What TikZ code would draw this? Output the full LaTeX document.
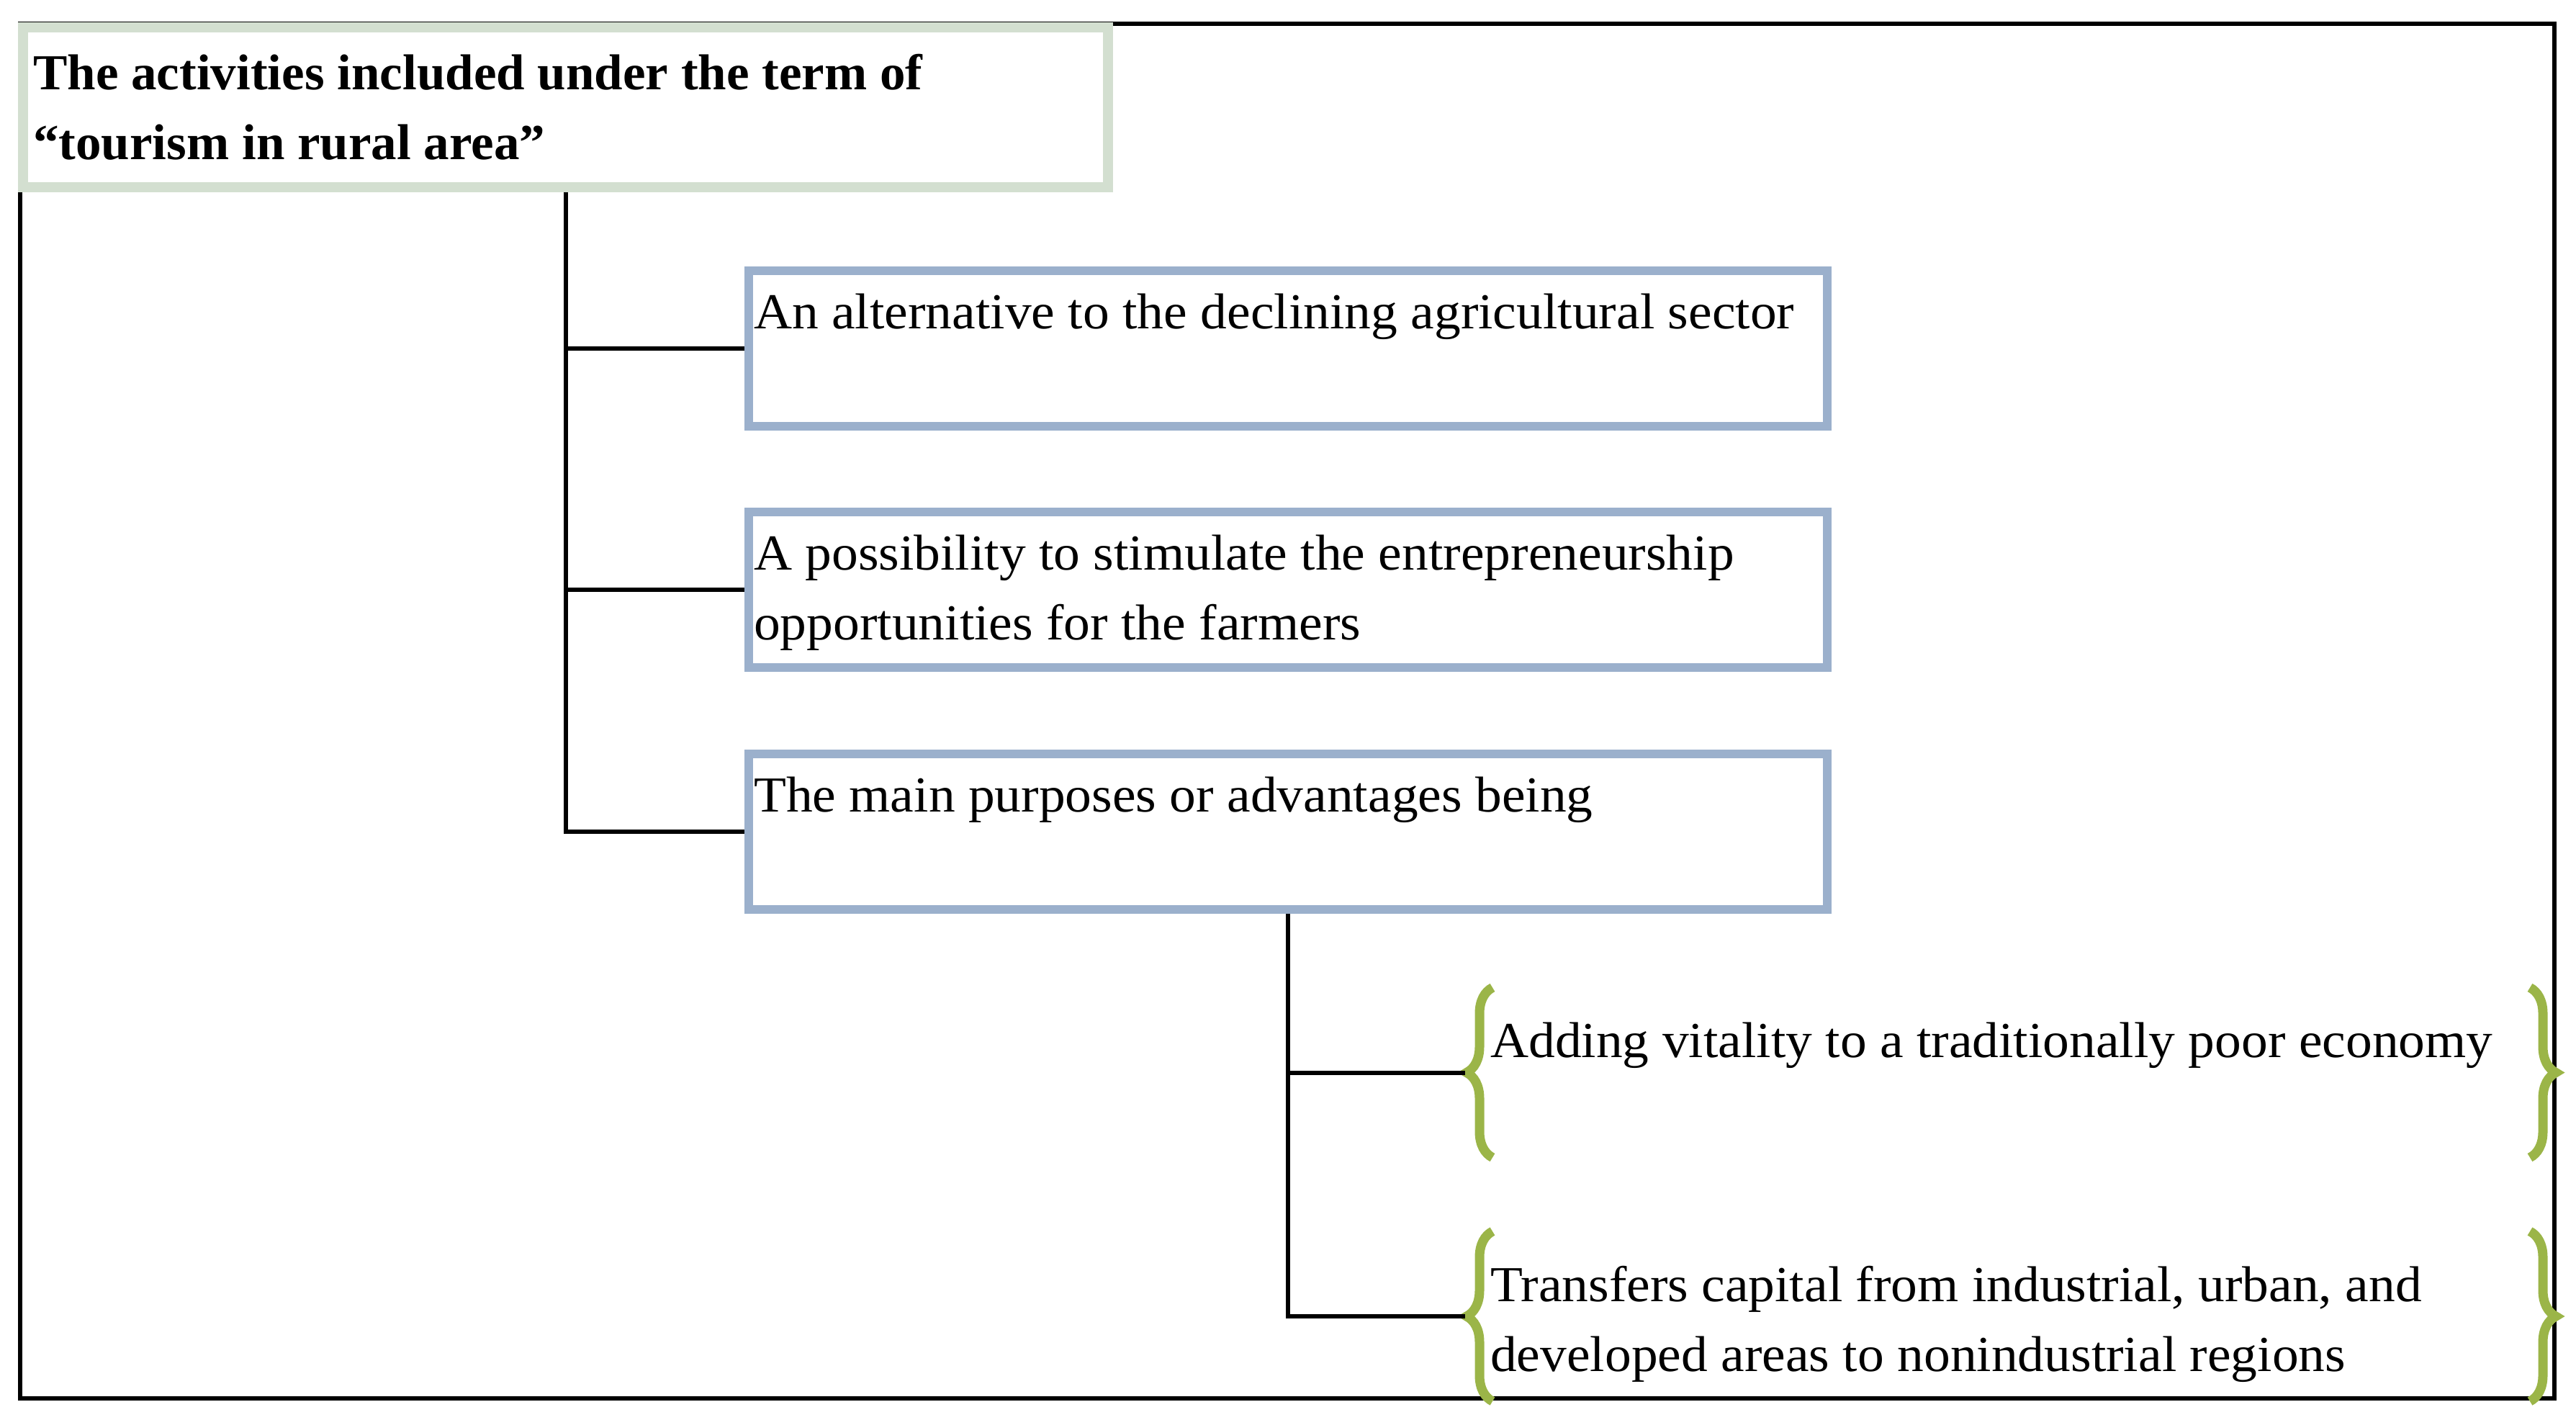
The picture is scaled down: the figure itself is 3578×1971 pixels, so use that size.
\documentclass[tikz,border=0pt]{standalone}
\usepackage{fontspec}
\setmainfont{Liberation Serif}[FakeStretch=1.05, BoldFeatures={FakeStretch=1.015}]
\usetikzlibrary{decorations.pathreplacing}

\definecolor{titleframe}{RGB}{211,223,208}
\definecolor{boxframe}{RGB}{155,176,204}
\definecolor{bracegreen}{RGB}{155,181,72}

\begin{document}
\begin{tikzpicture}[x=1pt, y=-1pt,
        titlebox/.style={
            % The shape:
            rectangle,
            % The size:
            minimum width=1507, minimum height=222,
            % The border
            line width=14,
            draw=titleframe,
            % The filling
            fill=white
        },
        box/.style={
            % The shape:
            rectangle,
            % The size:
            minimum width=1498, minimum height=216,
            % The border
            line width=12,
            draw=boxframe,
            fill=white
        },
        group/.style={
            rectangle,
            minimum width=1517, minimum height=236,
            inner sep=0, outer sep=0
        },
        txt/.style={
            anchor=north west,
            inner sep=0,
            align=left,
            % Font
            font={\fontsize{70}{97}\selectfont}
        },
        conn/.style={line width=6, draw=black},
        bracestyle/.style={
            decorate,
            decoration={brace, amplitude=36},
            line width=13,
            draw=bracegreen
        }]

        \useasboundingbox (0,0) rectangle (3578,1971);

        % outer frame
        \draw[line width=6] (28,33) rectangle (3548,1942);

        \node [titlebox] (title) at (785.5,149) {};
        \node [txt] (titlet) at ([shift={(21,25)}]title.north west)
            {\bfseries\strut The activities included under the term of\\\bfseries “tourism in rural area”};

        \foreach \name/\y/\txt in {b1/484/{An alternative to the declining agricultural sector},
                                   b2/819/{A possibility to stimulate the entrepreneurship\\opportunities for the farmers},
                                   b3/1155/{The main purposes or advantages being}}
        {
            \node [box] (\name) at (1789,\y) {};
            \node [txt] (\name t) at ([shift={(13,18)}]\name.north west) {\strut\txt};
        }

        \foreach \name/\y/\txt in {g1/1489.5/{Adding vitality to a traditionally poor economy},
                                   g2/1828/{Transfers capital from industrial, urban, and\\developed areas to nonindustrial regions}}
        {
            \node [group] (\name) at (2793.5,\y) {};
            \node [txt] (\name t) at ([shift={(35,29)}]\name.north west) {\strut\txt};
            \draw [bracestyle] ([xshift=38]\name.south west) -- ([xshift=38]\name.north west);
            \draw [bracestyle] ([xshift=-38]\name.north east) -- ([xshift=-38]\name.south east);
        }

        % connectors
        \draw [conn] (title.south) |- (b3.west);
        \draw [conn] (title.south |- b1.west) -- (b1.west);
        \draw [conn] (title.south |- b2.west) -- (b2.west);
        \draw [conn] (b3.south) |- (g2.west);
        \draw [conn] (b3.south |- g1.west) -- (g1.west);

    \end{tikzpicture}
\end{document}
